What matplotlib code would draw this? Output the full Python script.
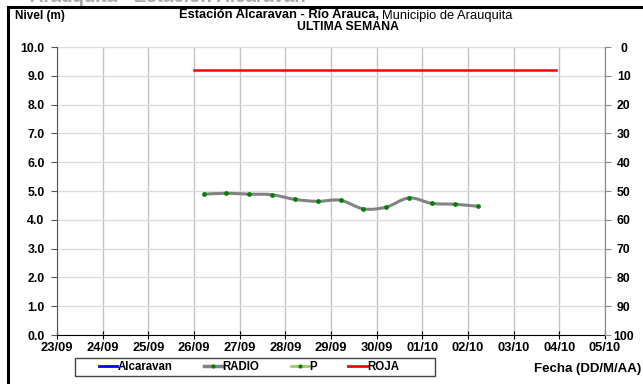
import datetime as dt

import matplotlib
matplotlib.use("Agg")
import matplotlib.pyplot as plt
import matplotlib.dates as mdates
from matplotlib.path import Path
from matplotlib.patches import PathPatch, Rectangle
from matplotlib.lines import Line2D

plt.rcParams["font.family"] = ["Liberation Sans", "DejaVu Sans"]

# ----- data
radio_times = [
    "2013-09-26 05:00", "2013-09-26 17:00", "2013-09-27 05:00", "2013-09-27 17:00",
    "2013-09-28 05:00", "2013-09-28 17:00", "2013-09-29 05:00", "2013-09-29 17:00",
    "2013-09-30 05:00", "2013-09-30 17:00", "2013-10-01 05:00", "2013-10-01 17:00",
    "2013-10-02 05:00",
]
radio_level = [4.89, 4.92, 4.89, 4.87, 4.71, 4.64, 4.68, 4.38, 4.44, 4.76, 4.57, 4.54, 4.47]

roja_times = ["2013-09-26 00:00", "2013-10-03 22:00"]
roja_level = [9.2, 9.2]

x_ticks = [
    "2013-09-23", "2013-09-24", "2013-09-25", "2013-09-26", "2013-09-27",
    "2013-09-28", "2013-09-29", "2013-09-30", "2013-10-01", "2013-10-02",
    "2013-10-03", "2013-10-04", "2013-10-05",
]
legend_labels = ["Alcaravan", "RADIO", "P", "ROJA"]


def to_num(strings, fmt):
    return [mdates.date2num(dt.datetime.strptime(s, fmt)) for s in strings]


def smooth_path(xs, ys):
    # Catmull-Rom through the points, as cubic Bezier segments
    pts = list(zip(xs, ys))
    verts = [pts[0]]
    codes = [Path.MOVETO]
    n = len(pts)
    for i in range(n - 1):
        p0 = pts[i - 1] if i > 0 else pts[i]
        p1 = pts[i]
        p2 = pts[i + 1]
        p3 = pts[i + 2] if i + 2 < n else pts[i + 1]
        c1 = (p1[0] + (p2[0] - p0[0]) / 6, p1[1] + (p2[1] - p0[1]) / 6)
        c2 = (p2[0] - (p3[0] - p1[0]) / 6, p2[1] - (p3[1] - p1[1]) / 6)
        verts += [c1, c2, p2]
        codes += [Path.CURVE4] * 3
    return Path(verts, codes)


def px(x, y):
    # reference pixel -> figure fraction
    return x / 643, 1 - y / 384


rx = to_num(radio_times, "%Y-%m-%d %H:%M")
kx = to_num(roja_times, "%Y-%m-%d %H:%M")
tx = to_num(x_ticks, "%Y-%m-%d")

fig = plt.figure(figsize=(6.43, 3.84), dpi=100)

# outer frame (runs off the right and bottom edges)
fig.patches.append(Rectangle((7.5 / 643, -0.05), 1.0, 1 - 7 / 384 + 0.05,
                             transform=fig.transFigure, fill=False,
                             edgecolor="black", linewidth=2.2))

# clipped heading above the frame
fig.text(*px(30, 2), "Arauquita - Estación Alcaravan", fontsize=13.5,
         fontweight="bold", color="#a8a8a8", ha="left", va="baseline")

ax = fig.add_axes([57 / 643, 1 - 335 / 384, 548 / 643, 288 / 384])

ax.plot(kx, roja_level, color="#ff0000", linewidth=1.8, zorder=3)
ax.add_patch(PathPatch(smooth_path(rx, radio_level), facecolor="none",
                       edgecolor="#838383", linewidth=2.2, zorder=3))
ax.plot(rx, radio_level, linestyle="none", marker="o", markersize=2.4,
        color="#008000", zorder=4)

ax.set_xlim(tx[0], tx[-1])
ax.set_ylim(0, 10)
ax.set_xticks(tx)
ax.xaxis.set_major_formatter(mdates.DateFormatter("%d/%m"))
ax.set_yticks([i for i in range(11)])
ax.set_yticklabels([f"{i:.1f}" for i in range(11)])
ax.grid(True, axis="x", color="#c4c4c4", linewidth=1.0)
ax.grid(True, axis="y", color="#dcdcdc", linewidth=1.0)
ax.set_axisbelow(True)

ax.spines["top"].set_visible(False)
ax.spines["right"].set_color("#8c8c8c")
ax.spines["left"].set_color("#555555")
ax.spines["bottom"].set_color("black")
ax.tick_params(axis="x", direction="inout", length=6, pad=2, labelsize=9.3,
               colors="black")
ax.tick_params(axis="y", direction="out", length=4, pad=5, labelsize=8.8,
               colors="#555555", labelcolor="black")
for lab in ax.get_xticklabels() + ax.get_yticklabels():
    lab.set_fontweight("bold")

ax2 = ax.twinx()
ax2.set_ylim(100, 0)
ax2.set_yticks(list(range(0, 101, 10)))
ax2.set_yticklabels([str(v) for v in range(0, 101, 10)])
ax2.tick_params(axis="y", direction="out", length=4, labelsize=8.8, pad=9.5,
                colors="#8c8c8c", labelcolor="black")
for s in ("top", "left", "bottom"):
    ax2.spines[s].set_visible(False)
ax2.spines["right"].set_color("#8c8c8c")
for lab in ax2.get_yticklabels():
    lab.set_fontweight("bold")
    lab.set_horizontalalignment("center")

# titles
fig.text(*px(15, 16), "Nivel (m)", fontsize=8.5, fontweight="bold",
         ha="left", va="center")
fig.text(*px(379, 15.5), "Estación Alcaravan - Río Arauca,",
         fontsize=9.3, fontweight="bold", ha="right", va="center")
fig.text(*px(382, 15.5), "Municipio de Arauquita", fontsize=9.3,
         ha="left", va="center")
fig.text(*px(348, 27.5), "ULTIMA SEMANA", fontsize=8.8, fontweight="bold",
         ha="center", va="center")
fig.text(*px(641, 369), "Fecha (DD/M/AA)", fontsize=9.5,
         fontweight="bold", ha="right", va="center")

# legend: frame drawn separately so its padding can match
x0, y0 = px(75, 376)
x1, y1 = px(435, 358)
fig.patches.append(Rectangle((x0, y0), x1 - x0, y1 - y0, transform=fig.transFigure,
                             fill=False, edgecolor="#444444", linewidth=1.0))
handles = [
    Line2D([], [], color="#0000ff", linewidth=2),
    Line2D([], [], color="#858585", linewidth=2.5, marker="o", markersize=2,
           markerfacecolor="#008000", markeredgecolor="#008000"),
    Line2D([], [], color="#99cc66", linewidth=2, marker="o", markersize=2,
           markerfacecolor="#008000", markeredgecolor="#008000"),
    Line2D([], [], color="#ff0000", linewidth=2),
]
leg = fig.legend(handles, legend_labels, ncol=4, loc="center",
                 bbox_to_anchor=px(249, 367), fontsize=8.3,
                 frameon=False, handlelength=1.6, handletextpad=0.05,
                 columnspacing=2.7, borderpad=0.0)
for t in leg.get_texts():
    t.set_fontweight("bold")

fig.savefig("out.png", dpi=100)
